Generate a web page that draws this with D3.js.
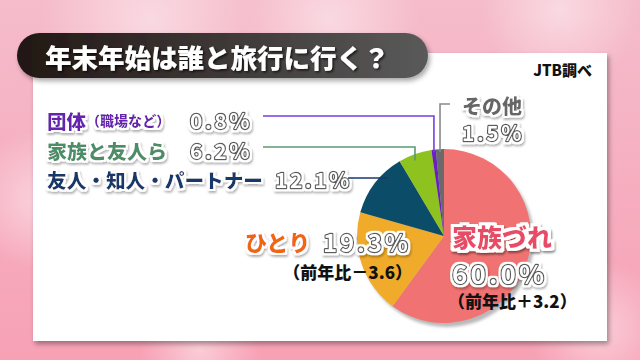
<!DOCTYPE html>
<html><head><meta charset="utf-8">
<script src="https://cdn.jsdelivr.net/npm/d3@7/dist/d3.min.js"></script>
<style>
html,body{margin:0;padding:0;width:640px;height:360px;overflow:hidden;}
svg{display:block;font-family:"Noto Sans CJK JP","Noto Sans",sans-serif;}
</style></head>
<body>
<svg id="c" width="640" height="360"></svg>
<script>
const title = "年末年始は誰と旅行に行く？";
const source = "JTB調べ";
const categories = ["家族づれ","ひとり","友人・知人・パートナー","家族と友人ら","団体","その他"];
const subNotes = ["","","","","（職場など）",""];
const values = [60.0, 19.3, 12.1, 6.2, 0.8, 1.5];
const valueLabels = ["60.0%","19.3%","12.1%","6.2%","0.8%","1.5%"];
const changeLabels = ["（前年比＋3.2）","（前年比－3.6）","","","",""];
const sliceColors = ["#f17272","#f0ab2a","#0b4d68","#8dc21f","#6a1fbf","#6a6a6a"];
const textColors = ["#e84c66","#f2650f","#17386a","#4b8d66","#6820b0","#666666"];
const lineColors = ["","","#17386a","#5a9a72","#7a3ee0","#8a8a8a"];

const svg = d3.select("#c");
const defs = svg.append("defs");

const bg = defs.append("linearGradient").attr("id","bg").attr("x1",0).attr("y1",0).attr("x2",0).attr("y2",1);
bg.append("stop").attr("offset",0).attr("stop-color","#f5bccb");
bg.append("stop").attr("offset",1).attr("stop-color","#f7a1b5");
const blob = defs.append("radialGradient").attr("id","blob");
blob.append("stop").attr("offset",0).attr("stop-color","#ffffff").attr("stop-opacity",0.45);
blob.append("stop").attr("offset",1).attr("stop-color","#ffffff").attr("stop-opacity",0);
const pill = defs.append("linearGradient").attr("id","pill").attr("x1",0).attr("y1",0).attr("x2",1).attr("y2",0);
pill.append("stop").attr("offset",0).attr("stop-color","#221714");
pill.append("stop").attr("offset",1).attr("stop-color","#5a5a5a");
const sh = defs.append("filter").attr("id","sh").attr("x","-20%").attr("y","-20%").attr("width","140%").attr("height","160%");
sh.append("feDropShadow").attr("dx",2).attr("dy",3).attr("stdDeviation",2.5).attr("flood-color","#000").attr("flood-opacity",0.35);
const tsh = defs.append("filter").attr("id","tsh").attr("x","-10%").attr("y","-30%").attr("width","120%").attr("height","160%");
tsh.append("feDropShadow").attr("dx",1.5).attr("dy",1.5).attr("stdDeviation",0.8).attr("flood-color","#000").attr("flood-opacity",0.7);
function haloFilter(id, rad, sop){
  const f = defs.append("filter").attr("id",id).attr("x","-15%").attr("y","-40%").attr("width","130%").attr("height","180%");
  f.append("feMorphology").attr("in","SourceAlpha").attr("operator","dilate").attr("radius",rad).attr("result","d");
  f.append("feFlood").attr("flood-color","#fff").attr("result","white");
  f.append("feComposite").attr("in","white").attr("in2","d").attr("operator","in").attr("result","w");
  f.append("feGaussianBlur").attr("in","d").attr("stdDeviation",1.3).attr("result","b");
  f.append("feOffset").attr("in","b").attr("dx",1.2).attr("dy",1.8).attr("result","bo");
  f.append("feFlood").attr("flood-color","#000").attr("flood-opacity",sop).attr("result","sc");
  f.append("feComposite").attr("in","sc").attr("in2","bo").attr("operator","in").attr("result","s");
  const m = f.append("feMerge");
  m.append("feMergeNode").attr("in","s");
  m.append("feMergeNode").attr("in","w");
  m.append("feMergeNode").attr("in","SourceGraphic");
}
haloFilter("halo",2.2,0.3);
haloFilter("halo2",2.8,0.45);
const blur = defs.append("filter").attr("id","blur");
blur.append("feGaussianBlur").attr("stdDeviation",1.5);

svg.append("rect").attr("width",640).attr("height",360).attr("fill","url(#bg)");
[[150,20,110],[330,20,90],[560,10,80],[40,200,70],[600,330,70],[200,350,60]].forEach(b=>{
  svg.append("circle").attr("cx",b[0]).attr("cy",b[1]).attr("r",b[2]).attr("fill","url(#blob)");
});

svg.append("rect").attr("x",33).attr("y",53).attr("width",574).attr("height",288).attr("fill","#fff").attr("filter","url(#sh)");

svg.append("rect").attr("x",17).attr("y",33).attr("width",411).attr("height",45).attr("rx",22.5)
  .attr("fill","url(#pill)").attr("filter","url(#sh)");
svg.append("text").attr("x",45).attr("y",56).attr("dominant-baseline","central")
  .attr("font-size",26.5).attr("font-weight",900).attr("fill","#fff").attr("filter","url(#tsh)").text(title);

svg.append("text").attr("x",592).attr("y",69).attr("text-anchor","end").attr("dominant-baseline","central")
  .attr("font-size",15).attr("font-weight",900).attr("fill","#111").text(source);

const cx = 444, cy = 236, R = 87;
const pie = d3.pie().sort(null).value(d=>d)(values);
const arc = d3.arc().innerRadius(0).outerRadius(R);
const g = svg.append("g").attr("transform",`translate(${cx},${cy})`);
g.append("circle").attr("cx",3).attr("cy",4).attr("r",R).attr("fill","#b9b9b9").attr("filter","url(#blur)");
g.selectAll("path.s").data(pie).enter().append("path").attr("class","s")
  .attr("d",arc).attr("fill",(d,i)=>sliceColors[i]);

const leaderSpec = {2:{f:0.7,r:0.93},3:{f:0.43,r:0.93},4:{f:0.5,r:0.97},5:{f:0.5,r:0.97}};
function ptOn(i){
  const s = pie[i], sp = leaderSpec[i];
  const a = s.startAngle + (s.endAngle - s.startAngle)*sp.f;
  const rr = R*sp.r;
  return [cx + rr*Math.sin(a), cy - rr*Math.cos(a)];
}
const layout = {
  4:{x:47,y:120,vx:190,lx:263,ly:116},
  3:{x:47,y:150,vx:190,lx:263,ly:147},
  2:{x:47,y:179,vx:275,lx:348,ly:178},
};
function valueText(x,y,str,size,anchor){
  svg.append("text").attr("x",x).attr("y",y).attr("dominant-baseline","central")
    .attr("text-anchor",anchor||"start").attr("font-size",size).attr("font-weight",700)
    .attr("letter-spacing",size*0.12)
    .attr("fill","#fff").attr("stroke","#5a5a5a").attr("stroke-width",2.4).attr("stroke-linejoin","round")
    .attr("paint-order","stroke").attr("filter","url(#halo)").text(str);
}
function nameText(x,y,i,size,anchor,len){
  const t = svg.append("text").attr("x",x).attr("y",y).attr("dominant-baseline","central")
    .attr("text-anchor",anchor||"start").attr("font-size",size).attr("font-weight",900)
    .attr("fill",textColors[i]).attr("filter", i===0 ? "url(#halo2)" : "url(#halo)");
  if(len) t.attr("textLength",len).attr("lengthAdjust","spacingAndGlyphs");
  t.append("tspan").text(categories[i]);
  if(subNotes[i]) t.append("tspan").attr("font-size",size*0.72).text(subNotes[i]);
}
[4,3,2].forEach(i=>{
  const L = layout[i];
  const p = ptOn(i);
  nameText(L.x,L.y,i,19.5,"start", i===2 ? 216 : (i===3 ? 120 : null));
  valueText(L.vx,L.y,valueLabels[i],21);
  svg.append("path").attr("fill","none").attr("stroke",lineColors[i]).attr("stroke-width",1.6)
    .attr("d", i===2 ? `M${L.lx},${L.ly}H${p[0]}` : `M${L.lx},${L.ly}H${p[0]}V${p[1]}`);
});
{
  const p = ptOn(5);
  svg.append("path").attr("fill","none").attr("stroke",lineColors[5]).attr("stroke-width",1.6)
    .attr("d",`M450,104H${p[0]}V${p[1]}`);
  nameText(492,105,5,20,"middle");
  valueText(493,132,valueLabels[5],21,"middle");
}
nameText(245,241,1,22);
valueText(323,241,valueLabels[1],24);
svg.append("text").attr("x",412).attr("y",271).attr("text-anchor","end").attr("dominant-baseline","central")
  .attr("font-size",17).attr("font-weight",900).attr("fill","#111").text(changeLabels[1]);
nameText(452,236,0,25);
valueText(452,272,valueLabels[0],26);
svg.append("text").attr("x",448).attr("y",300).attr("dominant-baseline","central")
  .attr("font-size",17).attr("font-weight",900).attr("fill","#111").text(changeLabels[0]);
</script>
</body></html>
